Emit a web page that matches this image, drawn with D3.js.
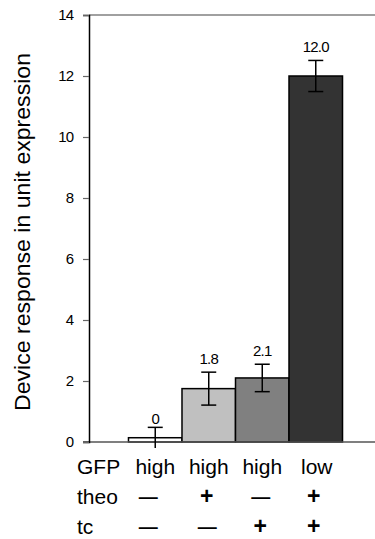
<!DOCTYPE html>
<html>
<head>
<meta charset="utf-8">
<script src="https://cdn.jsdelivr.net/npm/d3@7"></script>
<style>
  html, body { margin: 0; padding: 0; background: #fff; }
  svg { display: block; font-family: "Liberation Sans", Arial, sans-serif; }
</style>
</head>
<body>
<svg id="chart" width="375" height="539"></svg>
<script>
// Conditions (one bar per construct / inducer combination)
const categories = ["c1", "c2", "c3", "c4"];
const values = [0.14, 1.75, 2.1, 12.0];
const errors = [0.34, 0.54, 0.45, 0.51];
const valueLabels = ["0", "1.8", "2.1", "12.0"];
const barColors = ["#ffffff", "#c0c0c0", "#808080", "#333333"];
const yTicks = [0, 2, 4, 6, 8, 10, 12, 14];
const gfpRow = ["high", "high", "high", "low"];
const theoRow = ["\u2014", "+", "\u2014", "+"];
const tcRow = ["\u2014", "\u2014", "+", "+"];
const yTitle = "Device response in unit expression";

const svg = d3.select("#chart");
const plotLeft = 89, plotRight = 382, plotTop = 15, plotBottom = 442;

const x = d3.scaleBand().domain(categories).range([plotLeft, plotRight])
  .paddingInner(0).paddingOuter(0.738);
const y = d3.scaleLinear().domain([0, 14]).range([plotBottom, plotTop]);

// top frame line
svg.append("line")
  .attr("x1", plotLeft).attr("x2", 375).attr("y1", y(14)).attr("y2", y(14))
  .attr("stroke", "#808080").attr("stroke-width", 1.5);

// bars
svg.append("g").selectAll("rect").data(categories).join("rect")
  .attr("x", d => x(d))
  .attr("y", (d, i) => y(values[i]))
  .attr("width", x.bandwidth())
  .attr("height", (d, i) => y(0) - y(values[i]))
  .attr("fill", (d, i) => barColors[i])
  .attr("stroke", "#000").attr("stroke-width", 1.5);

// x baseline
svg.append("line")
  .attr("x1", plotLeft - 6).attr("x2", 375).attr("y1", y(0)).attr("y2", y(0))
  .attr("stroke", "#555").attr("stroke-width", 1.5);

// y axis
const yAxis = d3.axisLeft(y).tickValues(yTicks).tickSize(6).tickPadding(10)
  .tickFormat(d3.format("d"));
const gy = svg.append("g").attr("transform", `translate(${plotLeft},0)`).call(yAxis);
gy.select(".domain").attr("stroke", "#000").attr("stroke-width", 1.5);
gy.selectAll(".tick line").attr("stroke", "#666").attr("stroke-width", 1.2);
gy.selectAll(".tick text").attr("font-size", 15).attr("fill", "#000")
  .attr("letter-spacing", "-1px").attr("font-family", "'Liberation Sans', Arial, sans-serif");

// error bars
const cap = 7.5;
const eb = svg.append("g").attr("stroke", "#000").attr("stroke-width", 1.5);
categories.forEach((c, i) => {
  const cx = x(c) + x.bandwidth() / 2;
  const hi = y(values[i] + errors[i]);
  const lo = y(values[i] - errors[i]);
  eb.append("line").attr("x1", cx).attr("x2", cx).attr("y1", hi).attr("y2", lo);
  eb.append("line").attr("x1", cx - cap).attr("x2", cx + cap).attr("y1", hi).attr("y2", hi);
  if (values[i] - errors[i] >= 0) {
    eb.append("line").attr("x1", cx - cap).attr("x2", cx + cap).attr("y1", lo).attr("y2", lo);
  }
});

// value labels above error bars
svg.append("g").selectAll("text").data(categories).join("text")
  .attr("x", d => x(d) + x.bandwidth() / 2)
  .attr("y", (d, i) => y(values[i] + errors[i]) - (i === 0 ? 3 : 8.5))
  .attr("text-anchor", "middle")
  .attr("font-size", 15)
  .attr("letter-spacing", "-0.8px")
  .text((d, i) => valueLabels[i]);

// y title
svg.append("text")
  .attr("transform", "translate(30,232) rotate(-90)")
  .attr("text-anchor", "middle")
  .attr("font-size", 21.5)
  .attr("textLength", 358)
  .attr("lengthAdjust", "spacingAndGlyphs")
  .text(yTitle);

// condition table below the axis
const rows = [
  { name: "GFP", cells: gfpRow, y: 474, symbols: false },
  { name: "theo", cells: theoRow, y: 504, symbols: true },
  { name: "tc", cells: tcRow, y: 534, symbols: true }
];
const table = svg.append("g").attr("font-size", 21);
rows.forEach(r => {
  table.append("text").attr("x", 77).attr("y", r.y).text(r.name);
  r.cells.forEach((t, i) => {
    const cx = x(categories[i]) + x.bandwidth() / 2;
    const isDash = t === "\u2014";
    const cell = table.append("text")
      .attr("y", r.y - (isDash ? 1 : 0))
      .attr("text-anchor", "middle")
      .text(t);
    if (r.symbols) {
      cell.attr("x", cx - (isDash && i === 0 ? 7 : isDash ? 1.5 : 2))
        .attr("font-size", isDash ? 19 : 23)
        .attr("font-weight", "bold");
    } else {
      cell.attr("x", cx + (i === 3 ? 1 : 0));
    }
  });
});
</script>
</body>
</html>
